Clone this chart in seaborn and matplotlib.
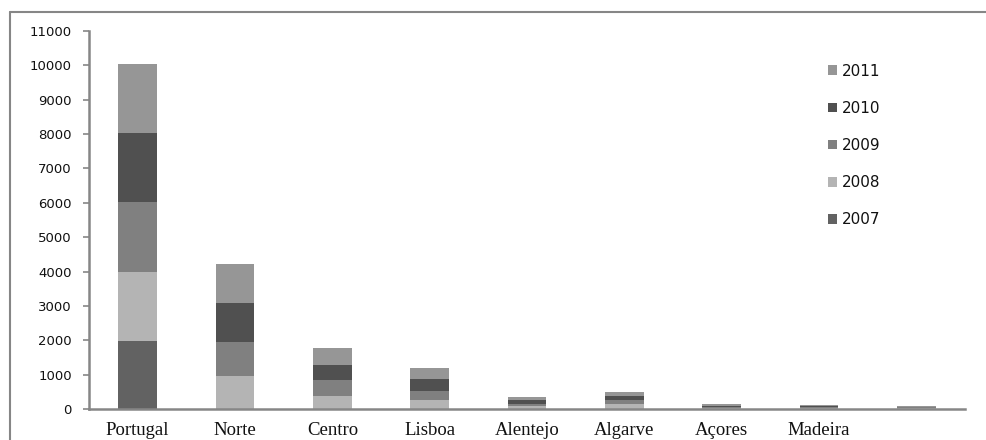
import numpy as np
import pandas as pd
import seaborn as sns
import matplotlib
matplotlib.use("Agg")
import matplotlib.pyplot as plt
from matplotlib.patches import Patch
from matplotlib.lines import Line2D

# Regions and yearly values (stacked bars)
regions = ["Portugal", "Norte", "Centro", "Lisboa", "Alentejo",
           "Algarve", "Açores", "Madeira", ""]
years = ["2007", "2008", "2009", "2010", "2011"]
v2007 = [1990, 0, 0, 0, 0, 0, 0, 0, 0]
v2008 = [2000, 968, 387, 270, 76, 134, 15, 25, 20]
v2009 = [2036, 988, 465, 262, 78, 116, 30, 35, 25]
v2010 = [2006, 1134, 436, 349, 96, 116, 50, 30, 20]
v2011 = [2006, 1134, 494, 319, 108, 137, 55, 35, 30]
yticks = list(range(0, 11001, 1000))

series = [v2007, v2008, v2009, v2010, v2011]
colors = ["#626262", "#b4b4b4", "#808080", "#505050", "#969696"]
axis_grey = "#868686"

sns.set_theme(style="white")
plt.rcParams["font.family"] = ["DejaVu Sans"]

fig = plt.figure(figsize=(9.87, 4.40), dpi=100)
W, H = 987, 440
ax = fig.add_axes([89 / W, (H - 409) / H, (965 - 89) / W, (409 - 31) / H])

# Cumulative totals, drawn from the top layer downward so each layer covers the next
cum = np.cumsum(np.array(series, dtype=float), axis=0)
for i in range(len(years) - 1, -1, -1):
    df = pd.DataFrame({"region": regions, "value": cum[i]})
    sns.barplot(data=df, x="region", y="value", order=regions,
                color=colors[i], width=0.4, saturation=1,
                linewidth=0, ax=ax)

ax.set_xlim(-0.5, len(regions) - 0.5)
ax.set_ylim(0, 11000)
ax.set_yticks(yticks)
ax.set_yticklabels([str(t) for t in yticks], fontsize=9.5, color="#111111")
ax.set_xlabel("")
ax.set_ylabel("")

# Category separators on the x axis
ax.set_xticks(np.arange(-0.5, len(regions), 1.0), minor=True)
ax.tick_params(axis="x", which="major", length=0, pad=9)
ax.tick_params(axis="x", which="minor", length=3.6, width=1.2, color=axis_grey,
               direction="out")
ax.tick_params(axis="y", which="major", length=4.3, width=1.2, color=axis_grey,
               direction="out", pad=8, left=True)
for lab in ax.get_xticklabels():
    lab.set_fontfamily("Liberation Serif")
    lab.set_fontsize(13.5)
    lab.set_color("#111111")

for side in ["top", "right"]:
    ax.spines[side].set_visible(False)
for side in ["left", "bottom"]:
    ax.spines[side].set_color(axis_grey)
    ax.spines[side].set_linewidth(1.8)

# Legend: newest year on top
handles = [Patch(facecolor=colors[i], edgecolor="none") for i in range(len(years) - 1, -1, -1)]
labels = [years[i] for i in range(len(years) - 1, -1, -1)]
leg = ax.legend(handles, labels, loc="upper left",
                bbox_to_anchor=((820 - 89) / (965 - 89), (409 - 56) / (409 - 31)),
                frameon=False, fontsize=11, handlelength=0.6, handleheight=0.6,
                handletextpad=0.3, labelspacing=1.45, borderpad=0)
for t in leg.get_texts():
    t.set_color("#111111")

# Outer chart frame (top and left edges)
fig.add_artist(Line2D([10 / W, 1.0], [1 - 12 / H, 1 - 12 / H], color=axis_grey,
                      linewidth=1.5, transform=fig.transFigure))
fig.add_artist(Line2D([10 / W, 10 / W], [0.0, 1 - 12 / H], color=axis_grey,
                      linewidth=1.5, transform=fig.transFigure))

fig.savefig("out.png", dpi=100, facecolor="white")
